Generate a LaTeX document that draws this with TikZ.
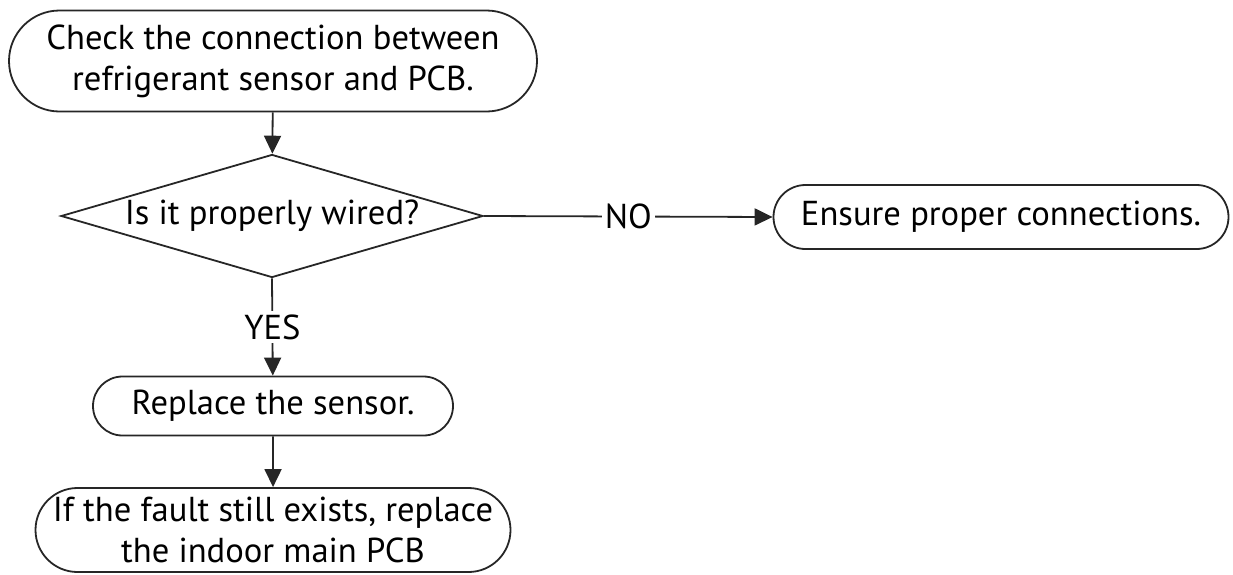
\documentclass[tikz,border=0pt]{standalone}
\usepackage{fontspec}
\setmainfont{PT Sans}
\usepackage{tikz}
\usetikzlibrary{arrows.meta, positioning, shapes.misc, shapes.geometric}
\tikzset{
  blk/.style={rounded rectangle, draw=black!85, line width=0.9pt, align=center,
              font=\fontsize{17.3}{20.5}\selectfont, inner sep=0pt},
  decide/.style={diamond, draw=black!85, line width=0.9pt, align=center,
              font=\fontsize{17.3}{20.5}\selectfont, inner sep=0pt, aspect=3.4},
  pipe/.style={-{Triangle[length=9pt, width=8.5pt]}, line width=0.9pt, draw=black!85},
  answer/.style={font=\fontsize{17.3}{20.5}\selectfont, fill=white, inner sep=1.5pt},
}
\begin{document}
\begin{tikzpicture}[x=0.5pt, y=-0.5pt]
  \useasboundingbox (0,0) rectangle (1233,574);
  \node[blk, minimum width=264pt, minimum height=50.5pt] (check) at (273,61)
        {Check the connection between\\refrigerant sensor and PCB.};
  \node[decide, minimum width=211pt, minimum height=61.5pt] (wired) at (272,216)
        {Is it properly wired?};
  \node[blk, minimum width=227.5pt, minimum height=32pt] (fix) at (1001,217)
        {Ensure proper connections.};
  \node[blk, minimum width=180pt, minimum height=29.5pt] (sensor) at (273,406)
        {Replace the sensor.};
  \node[blk, minimum width=237.5pt, minimum height=42pt] (pcb) at (273,530)
        {If the fault still exists, replace\\the indoor main PCB};
  \draw[pipe] (check) -- (wired);
  \draw[pipe] (wired.east) -- node[answer] {NO} (fix.west);
  \draw[pipe] (wired.south) -- node[answer] {YES} (sensor);
  \draw[pipe] (sensor) -- (pcb);
\end{tikzpicture}
\end{document}
